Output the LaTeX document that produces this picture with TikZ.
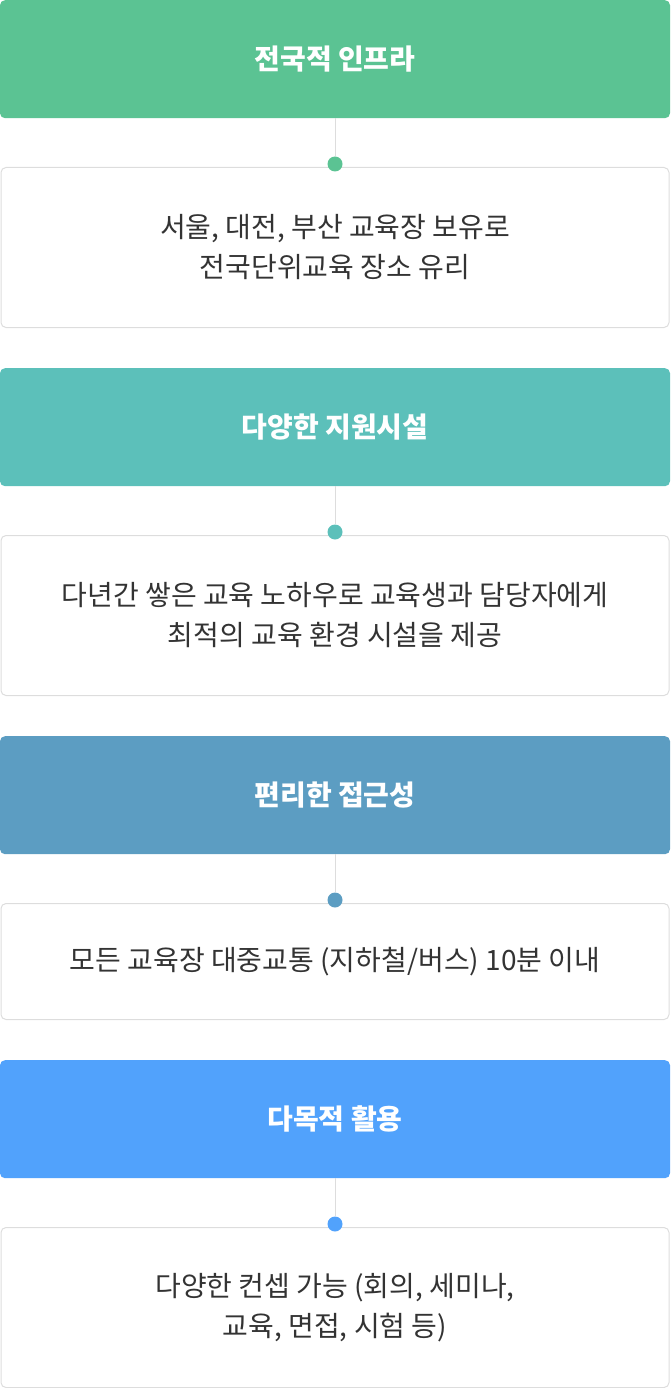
\documentclass[tikz,border=0pt]{standalone}
\usepackage{fontspec}
\setmainfont{Noto Sans CJK KR}
\definecolor{cA}{HTML}{5BC393}
\definecolor{cB}{HTML}{5CC0BA}
\definecolor{cC}{HTML}{5C9DC2}
\definecolor{cD}{HTML}{51A2FC}
\definecolor{bordr}{HTML}{DDDDDD}
\definecolor{txt}{HTML}{333333}
\tikzset{
 head/.style={rounded corners=5pt,minimum width=670pt,minimum height=118pt,inner sep=0pt,text=white,font=\fontsize{28}{32}\selectfont\bfseries,anchor=north},
 body/.style={draw=bordr,line width=1pt,rounded corners=5pt,minimum width=668pt,minimum height=160pt,inner sep=0pt,text=txt,align=center,font=\fontsize{28}{40}\selectfont,anchor=north},
 conn/.style={draw=bordr,line width=1pt},
 dotn/.style={circle,inner sep=0pt,minimum size=15pt}
}
\begin{document}
\begin{tikzpicture}[x=1pt,y=-1pt]
\useasboundingbox (0,0) rectangle (670,1388);
\node[head,fill=cA] (h1) at (335,0) {전국적 인프라};
\node[body] (b1) at (335,167) {서울, 대전, 부산 교육장 보유로\\전국단위교육 장소 유리};
\node[dotn,fill=cA] (d1) at (335,164) {};
\draw[conn] (h1.south) -- (d1);
\node[head,fill=cB] (h2) at (335,368) {다양한 지원시설};
\node[body] (b2) at (335,535) {다년간 쌓은 교육 노하우로 교육생과 담당자에게\\최적의 교육 환경 시설을 제공};
\node[dotn,fill=cB] (d2) at (335,532) {};
\draw[conn] (h2.south) -- (d2);
\node[head,fill=cC] (h3) at (335,736) {편리한 접근성};
\node[body,minimum height=116pt] (b3) at (335,903) {모든 교육장 대중교통 (지하철/버스) 10분 이내};
\node[dotn,fill=cC] (d3) at (335,900) {};
\draw[conn] (h3.south) -- (d3);
\node[head,fill=cD] (h4) at (335,1060) {다목적 활용};
\node[body] (b4) at (335,1227) {다양한 컨셉 가능 (회의, 세미나,\\교육, 면접, 시험 등)};
\node[dotn,fill=cD] (d4) at (335,1224) {};
\draw[conn] (h4.south) -- (d4);
\end{tikzpicture}
\end{document}
